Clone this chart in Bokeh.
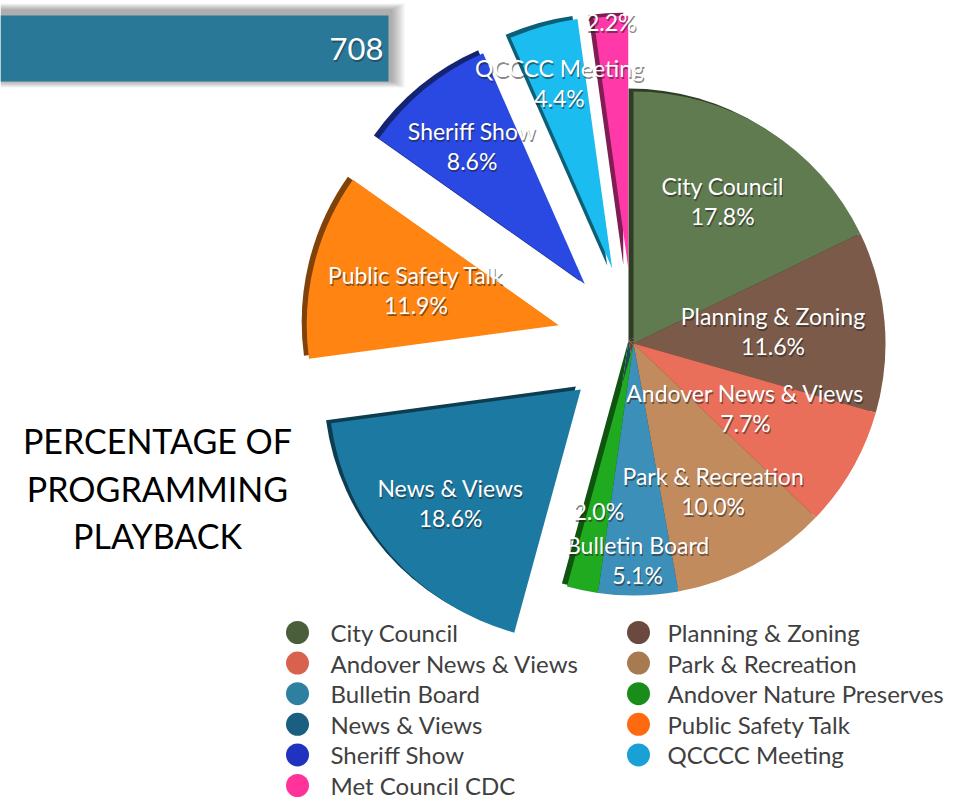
import math
from bokeh.plotting import figure
from bokeh.models import Range1d, ColumnDataSource
from bokeh.embed import file_html
from bokeh.resources import INLINE
from bokeh.core.properties import value

# ---------------- data ----------------
categories = ["City Council", "Planning & Zoning", "Andover News & Views",
              "Park & Recreation", "Bulletin Board", "Andover Nature Preserves",
              "News & Views", "Public Safety Talk", "Sheriff Show",
              "QCCCC Meeting", "Met Council CDC"]
percentages = [17.8, 11.6, 7.7, 10.0, 5.1, 2.0, 18.6, 11.9, 8.6, 4.4, 2.2]
bar_value = 708
title_lines = ["PERCENTAGE OF", "PROGRAMMING", "PLAYBACK"]

# ---------------- styles ----------------
SLICE_COLORS = ["#5f7b4f", "#7b5a4a", "#ea6f5b", "#c28b5e", "#3b8fb8", "#1faa1f",
                "#1c7aa2", "#ff8412", "#2a48e2", "#1bbcef", "#ff3aa8"]
LEGEND_COLORS = ["#4b5e3b", "#6a4a3e", "#d9624e", "#a87a52", "#2f7fa0", "#1a8c1a",
                 "#1a5f80", "#ff6a10", "#2033c0", "#19a0d5", "#ff3399"]
EXPLODE = [0, 0, 0, 0, 0, 0, 70, 77, 77, 78, 76]
LABEL_R = [168, 140, 129, 168, 217, 171, 173, 147, 178, 193, 246]
FONT = "Lato"

W, H = 964, 800


def Y(ref_y):
    return 800 - ref_y


def darken(hex_color, f):
    h = hex_color.lstrip("#")
    r, g, b = (int(h[i:i + 2], 16) for i in (0, 2, 4))
    return "#%02x%02x%02x" % (int(r * f), int(g * f), int(b * f))


p = figure(width=W, height=H, x_range=Range1d(0, W), y_range=Range1d(0, H),
           output_backend="svg", toolbar_location=None, min_border=0,
           x_axis_location=None, y_axis_location=None)
p.grid.visible = False
p.outline_line_color = None
p.background_fill_color = "white"

# ---------------- bar (708) ----------------
BAR_MAX = bar_value * W / 388.0
p.extra_x_ranges = {"bar": Range1d(0, BAR_MAX)}
px = BAR_MAX / W
bar_y = Y(48)
for k in range(7, 0, -1):
    p.hbar(y=[bar_y + 3], left=[0], right=[bar_value + (2 + 2 * k) * px],
           height=66 + 2 * k + 4, x_range_name="bar",
           fill_color="black", fill_alpha=0.05, line_color=None)
p.hbar(y=[bar_y], left=[0], right=[bar_value], height=66, x_range_name="bar",
       fill_color="#2a7898", line_color=None)
p.text(x=[bar_value], y=[bar_y], text=[str(bar_value)], x_range_name="bar",
       x_offset=-5 + 1, y_offset=2, text_align="right", text_baseline="middle",
       text_font=value(FONT), text_font_size="31px", text_color="#1a3a4a", text_alpha=0.6)
p.text(x=[bar_value], y=[bar_y], text=[str(bar_value)], x_range_name="bar",
       x_offset=-5, text_align="right", text_baseline="middle",
       text_font=value(FONT), text_font_size="31px", text_color="white")

# ---------------- pie ----------------
CX, CY = 633, Y(343)
R = 252
total = sum(percentages)

xs, ys, starts, ends, cols, sides = [], [], [], [], [], []
lab_x, lab_y, names, pcts = [], [], [], []
theta = 0.0
for i, v in enumerate(percentages):
    t1 = theta + v / total * 360.0
    mid = math.radians((theta + t1) / 2)
    ex = EXPLODE[i]
    vx = CX + ex * math.sin(mid)
    vy = CY + ex * math.cos(mid)
    xs.append(vx)
    ys.append(vy)
    starts.append(math.radians(90 - theta))
    ends.append(math.radians(90 - t1))
    cols.append(SLICE_COLORS[i])
    sides.append(darken(SLICE_COLORS[i], 0.5))
    lr = LABEL_R[i]
    lab_x.append(vx + lr * math.sin(mid))
    lab_y.append(vy + lr * math.cos(mid))
    names.append(categories[i] if v >= 3 else "")
    pcts.append("%.1f%%" % v)
    theta = t1

# 3D side faces (darker copies offset up-left)
side_src = ColumnDataSource(dict(x=[x - 5 for x in xs], y=[y + 3 for y in ys],
                                 s=starts, e=ends, c=sides))
p.wedge(x="x", y="y", radius=R, start_angle="s", end_angle="e", direction="clock",
        fill_color="c", line_color=None, source=side_src)
src = ColumnDataSource(dict(x=xs, y=ys, s=starts, e=ends, c=cols))
p.wedge(x="x", y="y", radius=R, start_angle="s", end_angle="e", direction="clock",
        fill_color="c", line_color=None, source=src)

# labels
name_y = [y + 15 if n else y for y, n in zip(lab_y, names)]
pct_y = [y - 15 if n else y for y, n in zip(lab_y, names)]
for dx, dy, col, alpha in [(1, 2, "#202020", 0.55), (0, 0, "white", 1.0)]:
    p.text(x=lab_x, y=name_y, text=names, x_offset=dx, y_offset=dy,
           text_align="center", text_baseline="middle", text_font=value(FONT),
           text_font_size="23px", text_color=col, text_alpha=alpha)
    p.text(x=lab_x, y=pct_y, text=pcts, x_offset=dx, y_offset=dy,
           text_align="center", text_baseline="middle", text_font=value(FONT),
           text_font_size="23px", text_color=col, text_alpha=alpha)

# ---------------- title text ----------------
p.text(x=[157] * len(title_lines), y=[Y(440 + 47.5 * k) for k in range(len(title_lines))],
       text=title_lines, text_align="center", text_baseline="middle",
       text_font=value(FONT), text_font_size="34px", text_color="black")

# ---------------- legend ----------------
COL_MARK_X = [297, 638]
COL_TEXT_X = [330, 667]
leg_mx, leg_tx, leg_y = [], [], []
for i in range(len(categories)):
    c, r = i % 2, i // 2
    leg_mx.append(COL_MARK_X[c])
    leg_tx.append(COL_TEXT_X[c])
    leg_y.append(Y(632 + 30.6 * r))
p.scatter(x=leg_mx, y=leg_y, marker="circle", size=23, fill_color=LEGEND_COLORS,
          line_color=None)
p.text(x=leg_tx, y=leg_y, text=categories, text_align="left", text_baseline="middle",
       text_font=value(FONT), text_font_size="24px", text_color="#404040")

open("out.html", "w").write(file_html(p, INLINE))
